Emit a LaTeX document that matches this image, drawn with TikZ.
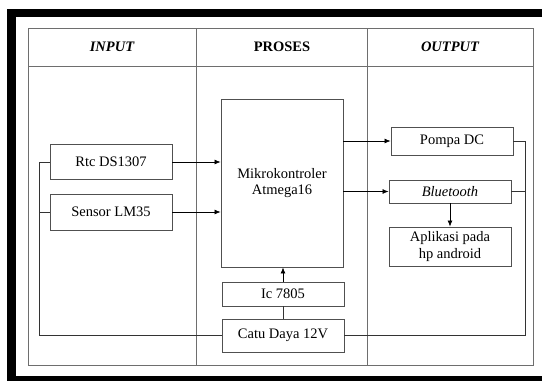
\documentclass[tikz,border=0pt]{standalone}
\usepackage{fontspec}
\setmainfont{Liberation Serif}
\newfontfamily\tnr{Liberation Serif}
\definecolor{frame}{HTML}{000000}
\definecolor{grid}{HTML}{6E6E6E}
\definecolor{boxln}{HTML}{505050}
\usetikzlibrary{arrows.meta,positioning,calc}

\begin{document}
\begin{tikzpicture}[x=1pt,y=-1pt,
    bx/.style={draw=boxln,line width=0.9pt,minimum width=122pt,
      inner sep=0pt,align=center,
      font=\tnr\fontsize{14.5}{16.5}\selectfont},
    hd/.style={font=\tnr\fontsize{14.5}{16.5}\selectfont\bfseries},
    ar/.style={-{Latex[length=6pt,width=5pt]},black,line width=0.7pt},
    ln/.style={black!80,line width=0.7pt},
  ]
    \useasboundingbox (0,0) rectangle (542,381);
    % black frame, cut off on the right
    \fill[frame] (7,9) rectangle (560,400);
    \fill[white] (16,17) rectangle (560,376);

    % table
    \draw[grid,line width=0.8pt] (28,28) rectangle (533,365);
    \draw[grid,line width=0.8pt] (28,66) -- (533,66);
    \draw[grid,line width=0.8pt] (196,28) -- (196,365);
    \draw[grid,line width=0.8pt] (367,28) -- (367,365);

    \node[hd] (hin) at (112,47) {\itshape INPUT};
    \node[hd] (hpr) at (282,47) {PROSES};
    \node[hd] (hout) at (450,47) {\itshape OUTPUT};

    % blocks
    \node[bx,minimum height=35pt] (rtc) at (111,162) {Rtc DS1307};
    \node[bx,minimum height=36pt] (sensor) at (111,212) {Sensor LM35};
    \node[bx,minimum height=168pt] (mcu) at (282,183)
      {Mikrokontroler\\Atmega16};
    \node[bx,minimum height=24pt] (ic) at (283,294) {Ic 7805};
    \node[bx,minimum height=33pt] (catu) at (283,335.5) {Catu Daya 12V};
    \node[bx,minimum height=28pt] (pompa) at (452,141) {Pompa DC};
    \node[bx,minimum height=23pt] (bt) at (450,191.5) {\itshape Bluetooth};
    \node[bx,minimum height=39pt] (app) at (450,246.5)
      {Aplikasi pada\\hp android};

    \coordinate (lbus) at (39,0);
    \coordinate (rbus) at (525,0);

    % signal arrows
    \draw[ar] (rtc.east) -- (mcu.west |- rtc.east);
    \draw[ar] (sensor.east) -- (mcu.west |- sensor.east);
    \draw[ar] (mcu.east |- pompa.west) -- (pompa.west);
    \draw[ar] (mcu.east |- bt.west) -- (bt.west);
    \draw[ar] (bt.south) -- (app.north);
    \draw[ar] (ic.north) -- (ic.north |- mcu.south);
    \draw[ln] (catu.north) -- (ic.south);

    % supply lines
    \draw[ln] (catu.west) -| (lbus |- rtc.west) -- (rtc.west);
    \draw[ln] (sensor.west) -- (lbus |- sensor.west);
    \draw[ln] (catu.east) -| (rbus |- pompa.east) -- (pompa.east);
    \draw[ln] (bt.east) -- (rbus |- bt.east);
  \end{tikzpicture}
\end{document}
